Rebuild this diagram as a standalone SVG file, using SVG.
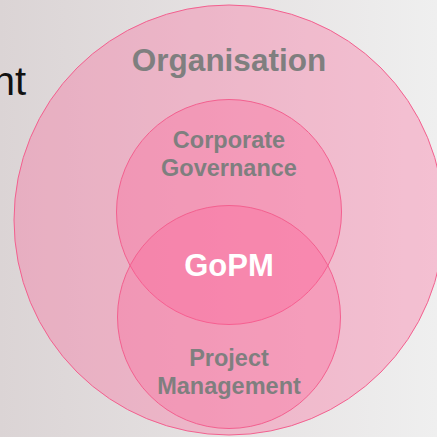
<svg xmlns="http://www.w3.org/2000/svg" width="437" height="437" viewBox="0 0 437 437">
  <defs>
    <linearGradient id="bg" x1="0" y1="0" x2="1" y2="0">
      <stop offset="0" stop-color="#dbd4d5"/>
      <stop offset="1" stop-color="#efefef"/>
    </linearGradient>
    <style>
      .ring { fill: #ff5c96; fill-opacity: 0.32; stroke: #f3608f; stroke-width: 1; }
      .lbl { font-family: "Liberation Sans", Arial, Helvetica, sans-serif; font-weight: bold; text-anchor: middle; fill: #7f7f7f; }
    </style>
  </defs>
  <rect x="0" y="0" width="437" height="437" fill="url(#bg)"/>
  <text x="26" y="95" font-family="'Liberation Sans', Arial, sans-serif" font-size="40" text-anchor="end" fill="#111111">nt</text>
  <g id="organisation">
    <circle class="ring" cx="229" cy="220" r="215"/>
    <text class="lbl" x="229" y="71" font-size="31.5">Organisation</text>
  </g>
  <g id="corporate-governance">
    <circle class="ring" cx="229" cy="212" r="112.5"/>
    <text class="lbl" x="229" y="148" font-size="23.5">Corporate</text>
    <text class="lbl" x="229" y="176" font-size="23.5">Governance</text>
  </g>
  <g id="project-management">
    <circle class="ring" cx="229" cy="317" r="111.5"/>
    <text class="lbl" x="229" y="366" font-size="23.5">Project</text>
    <text class="lbl" x="229" y="394" font-size="23.5">Management</text>
  </g>
  <g id="gopm">
    <text class="lbl" x="229" y="276" font-size="31" style="fill:#ffffff">GoPM</text>
  </g>
  <g id="connectors"/>
</svg>
